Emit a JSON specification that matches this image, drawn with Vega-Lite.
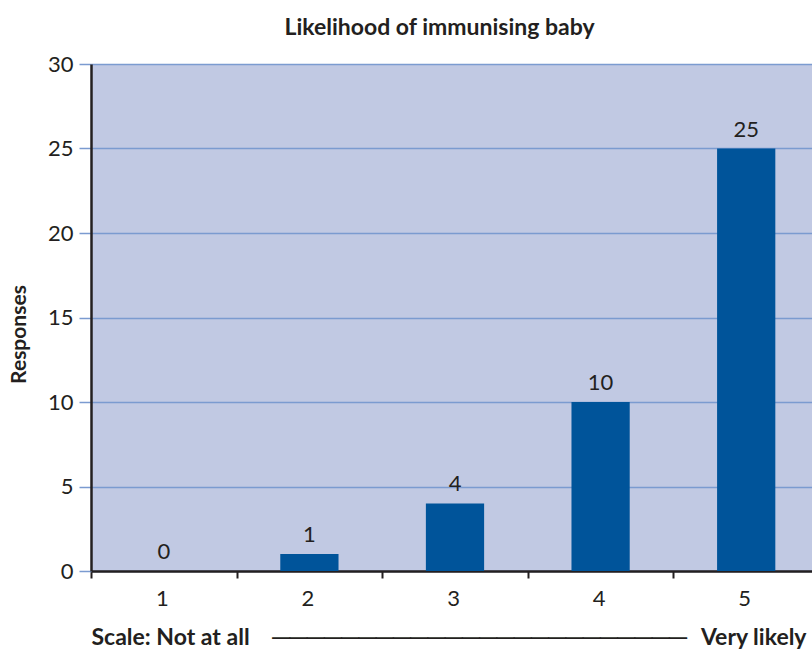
{
  "$schema": "https://vega.github.io/schema/vega-lite/v6.json",
  "width": 721,
  "height": 507,
  "autosize": {"type": "none"},
  "padding": {"left": 91, "top": 64, "right": 0, "bottom": 81},
  "background": "white",
  "title": {
    "text": "Likelihood of immunising baby",
    "font": "Lato",
    "fontSize": 23,
    "fontWeight": "bold",
    "color": "#231f20",
    "anchor": "middle",
    "dx": -12,
    "offset": 13
  },
  "data": {
    "values": [
      {"scale": "1", "responses": 0},
      {"scale": "2", "responses": 1},
      {"scale": "3", "responses": 4},
      {"scale": "4", "responses": 10},
      {"scale": "5", "responses": 25}
    ]
  },
  "config": {
    "view": {"fill": "#c1c9e3", "stroke": null},
    "font": "Lato"
  },
  "encoding": {
    "x": {
      "field": "scale",
      "type": "ordinal",
      "scale": {"range": [0, 728], "paddingInner": 0, "paddingOuter": 0},
      "axis": {
        "labelAngle": 0,
        "tickBand": "extent",
        "tickColor": "#231f20",
        "tickWidth": 2,
        "tickSize": 7,
        "domainColor": "#231f20",
        "domainWidth": 2.5,
        "labelFont": "Lato",
        "labelFontSize": 22,
        "labelColor": "#231f20",
        "labelPadding": 10,
        "labelOffset": -2,
        "grid": false,
        "title": "Scale: Not at all\u2002\u2002────────────────────────\u2002\u2009Very likely",
        "titleAnchor": "start",
        "titleAlign": "left",
        "titleFont": "Lato",
        "titleFontSize": 23,
        "titleFontWeight": "bold",
        "titleColor": "#231f20",
        "titlePadding": 17
      }
    },
    "y": {
      "field": "responses",
      "type": "quantitative",
      "scale": {"domain": [0, 30], "nice": false},
      "axis": {
        "values": [0, 5, 10, 15, 20, 25, 30],
        "grid": true,
        "gridColor": "#7b9bd0",
        "gridWidth": 1.5,
        "tickColor": "#7b9bd0",
        "tickWidth": 1.5,
        "tickSize": 12,
        "domainColor": "#231f20",
        "domainWidth": 2.5,
        "labelFont": "Lato",
        "labelFontSize": 22,
        "labelColor": "#231f20",
        "labelPadding": 6,
        "title": "Responses",
        "titleFont": "Lato",
        "titleFontSize": 21,
        "titleFontWeight": "bold",
        "titleColor": "#231f20",
        "titlePadding": 18,
        "titleY": 270
      }
    }
  },
  "layer": [
    {
      "mark": {"type": "bar", "color": "#00549a", "width": {"band": 0.4}}
    },
    {
      "mark": {
        "type": "text",
        "dy": -12,
        "baseline": "alphabetic",
        "font": "Lato",
        "fontSize": 22,
        "color": "#231f20"
      },
      "encoding": {"text": {"field": "responses", "type": "quantitative"}}
    }
  ]
}
